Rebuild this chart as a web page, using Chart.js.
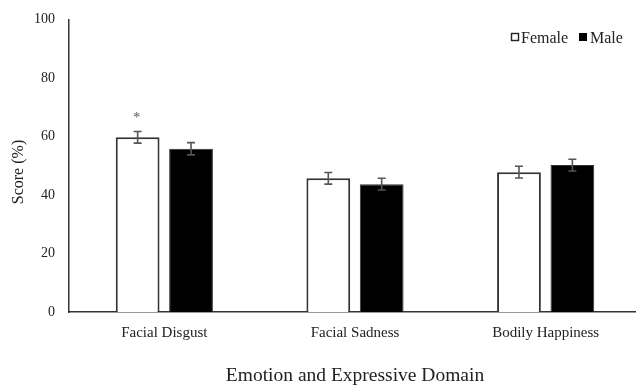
<!DOCTYPE html>
<html>
<head>
<meta charset="utf-8">
<script src="https://cdn.jsdelivr.net/npm/chart.js@4"></script>
<style>
  html,body{margin:0;padding:0;background:#fff;overflow:hidden;}
  #wrap{width:650px;height:389px;margin-top:-3px;}
</style>
</head>
<body>
<div id="wrap"><canvas id="ch"></canvas></div>
<script>
// ── DATA ──
const categories=['Facial Disgust','Facial Sadness','Bodily Happiness'];
const female=[59.7,45.7,47.8];
const male=[55.8,43.7,50.2];
const femaleErr=[2.0,2.0,2.0];
const maleErr=[2.1,2.0,2.0];
const signif=['*','',''];   // marks above female bars
const yTicks=[0,20,40,60,80,100];

const SERIF="'Liberation Serif','Times New Roman',serif";
const ink='#333';

// error bars + asterisk
const errPlugin={
  id:'errbars',
  afterDatasetsDraw(chart){
    const ctx=chart.ctx, y=chart.scales.y;
    const errs=[femaleErr,maleErr], vals=[female,male];
    ctx.save();
    ctx.strokeStyle='#555'; ctx.lineWidth=1.6;
    chart.data.datasets.forEach((ds,di)=>{
      chart.getDatasetMeta(di).data.forEach((bar,i)=>{
        const v=vals[di][i], e=errs[di][i];
        const t=y.getPixelForValue(v+e), b=y.getPixelForValue(v-e);
        ctx.beginPath();
        ctx.moveTo(bar.x,t); ctx.lineTo(bar.x,b);
        ctx.moveTo(bar.x-4,t); ctx.lineTo(bar.x+4,t);
        ctx.moveTo(bar.x-4,b); ctx.lineTo(bar.x+4,b);
        ctx.stroke();
        if(di===0 && signif[i]){
          ctx.fillStyle='#555'; ctx.font='14px '+SERIF;
          ctx.textAlign='center'; ctx.textBaseline='middle';
          ctx.fillText(signif[i],bar.x-1,t-13);
        }
      });
    });
    ctx.restore();
  }
};

// legend top-right and y title, Excel style (canvas is shifted up 3px)
const extrasPlugin={
  id:'xlExtras',
  afterDraw(chart){
    const ctx=chart.ctx;
    ctx.save();
    ctx.translate(0,3);
    ctx.font='16px '+SERIF; ctx.textBaseline='middle'; ctx.textAlign='left';
    ctx.strokeStyle='#222'; ctx.lineWidth=1.4; ctx.fillStyle='#fff';
    ctx.fillRect(511.5,33.5,7,7); ctx.strokeRect(511.5,33.5,7,7);
    ctx.fillStyle='#222'; ctx.fillText('Female',521,39);
    ctx.fillStyle='#000'; ctx.fillRect(579,33,8,8);
    ctx.fillStyle='#222'; ctx.fillText('Male',590,39);
    // y title
    ctx.translate(19,172); ctx.rotate(-Math.PI/2);
    ctx.textAlign='center'; ctx.font='16px '+SERIF;
    ctx.fillText('Score (%)',0,0);
    ctx.restore();
  }
};

new Chart(document.getElementById('ch'),{
  type:'bar',
  data:{ labels:categories, datasets:[
    { label:'Female', data:female, backgroundColor:'#fff', borderColor:ink, borderWidth:2,
      barPercentage:0.82, categoryPercentage:0.56 },
    { label:'Male', data:male, backgroundColor:'#000', borderColor:ink, borderWidth:1,
      barPercentage:0.82, categoryPercentage:0.56 }
  ]},
  options:{
    responsive:true, maintainAspectRatio:false, animation:false,
    layout:{ padding:{ top:16, right:9, left:0, bottom:0 } },
    plugins:{ legend:{display:false}, tooltip:{enabled:false} },
    scales:{
      x:{
        grid:{ display:false, drawTicks:false },
        border:{ color:ink, width:1.5 },
        ticks:{ color:'#222', font:{family:SERIF,size:15}, padding:12 },
        title:{ display:true, text:'Emotion and Expressive Domain', color:'#222',
          font:{family:SERIF,size:19.5}, padding:{top:23,bottom:-2} },
        afterFit(s){ s.height=74; }
      },
      y:{
        min:0, max:100,
        afterBuildTicks(s){ s.ticks=yTicks.map(v=>({value:v})); },
        grid:{ display:false, drawTicks:false },
        border:{ color:ink, width:1.5 },
        ticks:{ color:'#222', font:{family:SERIF,size:14}, padding:14 },
        afterFit(s){ s.width=69; }
      }
    }
  },
  plugins:[errPlugin,extrasPlugin]
});
</script>
</body>
</html>
